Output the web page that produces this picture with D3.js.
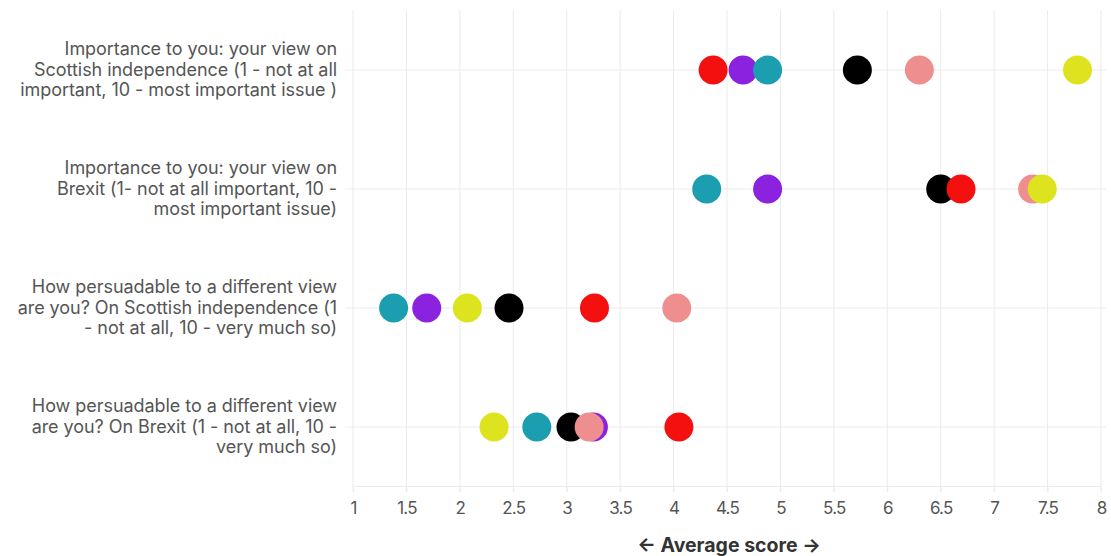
<!DOCTYPE html>
<html>
<head>
<meta charset="utf-8">
<script src="https://cdn.jsdelivr.net/npm/d3@7"></script>
<style>
  body { margin: 0; background: #fff; }
  svg { display: block; }
</style>
</head>
<body>
<svg width="1111" height="556"></svg>
<script>
// questions (rows), top to bottom
const questions = [
  ['Importance to you: your view on', 'Scottish independence (1 - not at all', 'important, 10 - most important issue )'],
  ['Importance to you: your view on', 'Brexit (1- not at all important, 10 -', 'most important issue)'],
  ['How persuadable to a different view', 'are you? On Scottish independence (1', '- not at all, 10 - very much so)'],
  ['How persuadable to a different view', 'are you? On Brexit (1 - not at all, 10 -', 'very much so)']
];

// groups, in drawing order
const groups = ['Group 1', 'Group 2', 'Group 3', 'Group 4', 'Group 5', 'Group 6'];
const colors = ['#000000', '#f51010', '#8a22e0', '#1a9eb0', '#ee8e8e', '#dde31f'];

// average scores per group, one value per question
const group1 = [5.72, 6.50, 2.46, 3.04];
const group2 = [4.37, 6.69, 3.26, 4.05];
const group3 = [4.65, 4.88, 1.69, 3.25];
const group4 = [4.88, 4.31, 1.38, 2.72];
const group5 = [6.30, 7.36, 4.03, 3.21];
const group6 = [7.78, 7.45, 2.07, 2.32];
const values = [group1, group2, group3, group4, group5, group6];

const ticks = [1, 1.5, 2, 2.5, 3, 3.5, 4, 4.5, 5, 5.5, 6, 6.5, 7, 7.5, 8];

const svg = d3.select('svg');
const font = 'Inter, "Noto Sans", sans-serif';

const x = d3.scaleLinear().domain([1, 8]).range([353, 1101]);
const y = d3.scalePoint().domain(d3.range(questions.length)).range([70, 427]);

// vertical grid
svg.append('g').selectAll('line')
  .data(ticks)
  .join('line')
  .attr('x1', d => x(d)).attr('x2', d => x(d))
  .attr('y1', 10).attr('y2', 492)
  .attr('stroke', '#ebebeb').attr('stroke-width', 1);

// horizontal grid at each row
svg.append('g').selectAll('line')
  .data(d3.range(questions.length))
  .join('line')
  .attr('x1', 345).attr('x2', 1106)
  .attr('y1', d => y(d)).attr('y2', d => y(d))
  .attr('stroke', '#ebebeb').attr('stroke-width', 1);

// bottom axis
const axis = svg.append('g')
  .attr('transform', 'translate(0,486)')
  .call(d3.axisBottom(x).tickValues(ticks).tickSize(6).tickPadding(10).tickFormat(d3.format('')));
axis.select('.domain').attr('stroke', '#ebebeb');
axis.selectAll('.tick line').attr('stroke', '#ebebeb');
axis.selectAll('.tick text')
  .style('font-family', font)
  .style('font-size', '17px')
  .style('letter-spacing', '-0.8px')
  .attr('fill', '#555');

// row labels
const labels = svg.append('g').selectAll('text')
  .data(questions)
  .join('text')
  .attr('x', 337)
  .attr('y', (d, i) => y(i) - 21)
  .attr('text-anchor', 'end')
  .style('font-family', font)
  .style('font-size', '18px')
  .style('letter-spacing', '-0.05px')
  .attr('fill', '#555');
labels.selectAll('tspan')
  .data(d => d)
  .join('tspan')
  .attr('x', 337)
  .attr('dy', (d, i) => i === 0 ? '0.35em' : '20.5px')
  .text(d => d);

// dots
groups.forEach((g, gi) => {
  svg.append('g').selectAll('circle')
    .data(values[gi])
    .join('circle')
    .attr('cx', d => x(d))
    .attr('cy', (d, i) => y(i))
    .attr('r', 14.5)
    .attr('fill', colors[gi]);
});

// axis title
svg.append('text')
  .attr('x', 729)
  .attr('y', 552)
  .attr('text-anchor', 'middle')
  .style('font-family', font)
  .style('font-size', '19.5px')
  .style('font-weight', 'bold')
  .attr('fill', '#333')
  .text('← Average score →');
</script>
</body>
</html>
